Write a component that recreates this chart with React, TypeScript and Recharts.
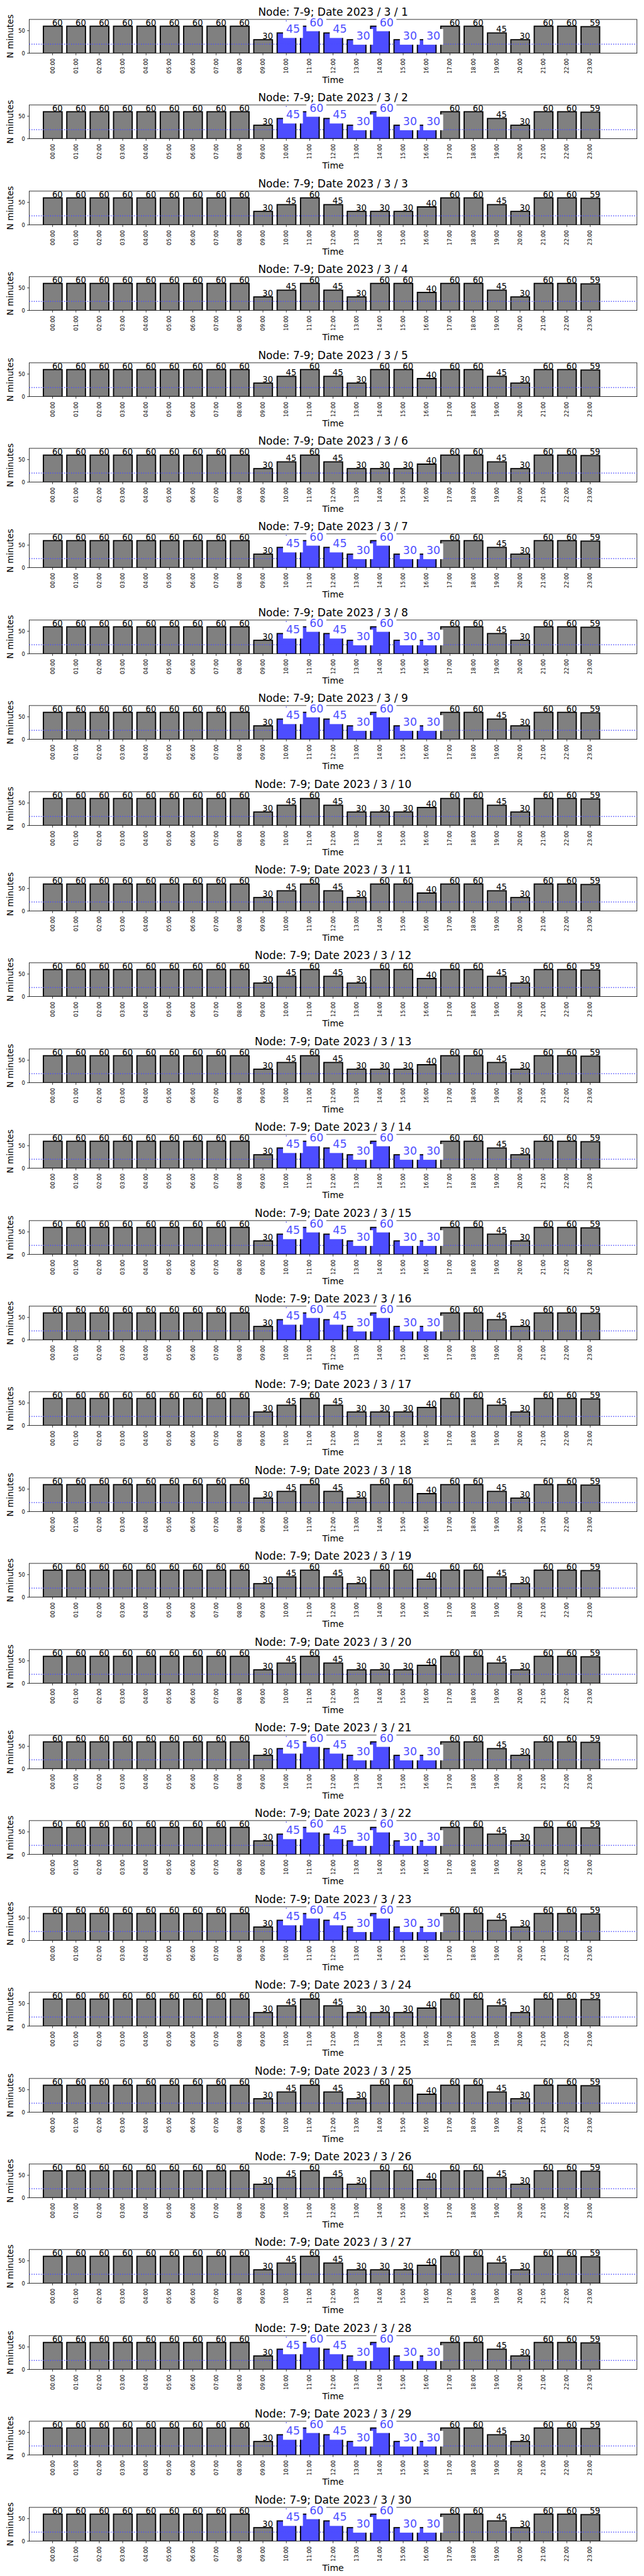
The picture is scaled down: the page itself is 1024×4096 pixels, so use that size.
import React from "react";
import { BarChart, Bar, XAxis, YAxis, Cell, LabelList, ReferenceLine } from "recharts";

// hour categories
const HOURS = [
  "00:00", "01:00", "02:00", "03:00", "04:00", "05:00", "06:00", "07:00",
  "08:00", "09:00", "10:00", "11:00", "12:00", "13:00", "14:00", "15:00",
  "16:00", "17:00", "18:00", "19:00", "20:00", "21:00", "22:00", "23:00",
];

// minutes per hour, three kinds of day seen in the panels
const MIN_TUE_THU = [60, 60, 60, 60, 60, 60, 60, 60, 60, 30, 45, 60, 45, 30, 60, 30, 30, 60, 60, 45, 30, 60, 60, 59];
const MIN_MON_FRI = [60, 60, 60, 60, 60, 60, 60, 60, 60, 30, 45, 60, 45, 30, 30, 30, 40, 60, 60, 45, 30, 60, 60, 59];
const MIN_WEEKEND = [60, 60, 60, 60, 60, 60, 60, 60, 60, 30, 45, 60, 45, 30, 60, 60, 40, 60, 60, 45, 30, 60, 60, 59];

const DAYS = [1, 2, 3, 4, 5, 6, 7, 8, 9, 10, 11, 12, 13, 14, 15, 16, 17, 18, 19, 20, 21, 22, 23, 24, 25, 26, 27, 28, 29, 30];
const DAY_KIND = [
  "tt", "tt", "mf", "we", "we", "mf", "tt", "tt", "tt", "mf",
  "we", "we", "mf", "tt", "tt", "tt", "mf", "we", "we", "mf",
  "tt", "tt", "tt", "mf", "we", "we", "mf", "tt", "tt", "tt",
];
const BLUE_HOURS = ["10:00", "11:00", "12:00", "13:00", "14:00", "15:00", "16:00"];

const LIMIT = 20;
const Y_TOP = 75;
const Y_TICKS = [0, 50];

const FONT = "'DejaVu Sans', sans-serif";
const BLUE = "#4d4dff";
const GRAY = "#808080";

// panel geometry (1024 wide page, 30 panels)
const W = 1024;
const H = 136.4;
const PL = 46.4;
const PR = 1012.8;
const PT = 30.9;
const PB = 84.6;
const YAW = 30;
const XAH = 40;
const BAR_W = 29.7;
const PAD = { left: 18.6, right: 55.8 };

function XTick(props: any) {
  const { x, y, payload } = props;
  const ty = y + 1.6;
  return (
    <text x={x} y={ty} transform={`rotate(-90 ${x} ${ty})`} textAnchor="end" dominantBaseline="central"
      fontSize={8.4} fontFamily={FONT} fill="#000">
      {payload.value}
    </text>
  );
}

function YTick(props: any) {
  const { x, y, payload } = props;
  return (
    <text x={x} y={y} textAnchor="end" dominantBaseline="central" fontSize={8.4} fontFamily={FONT} fill="#000">
      {payload.value}
    </text>
  );
}

function ValueLabel(props: any) {
  const vb = props.viewBox || props;
  const { x, y, width } = vb;
  const raw = String(props.value);
  const hl = raw[0] === "h";
  const v = hl ? raw.slice(1) : raw;
  const cx = x + width / 2;
  if (hl) {
    const fs = 17.4;
    const tw = v.length * 0.636 * fs;
    return (
      <g>
        <rect x={cx - 5.5} y={y - 0.76 * fs - 3.8} width={tw + 9.5} height={fs + 7.6} fill="#fff" />
        <text x={cx - 0.5} y={y} fontSize={fs} fill={BLUE} fontFamily={FONT}>{v}</text>
      </g>
    );
  }
  return (
    <text x={cx - 1} y={y - 1} fontSize={13.2} fill="#000" fontFamily={FONT}>{v}</text>
  );
}

function Panel({ day, kind }: { day: number; kind: string }) {
  const mins = kind === "tt" ? MIN_TUE_THU : kind === "mf" ? MIN_MON_FRI : MIN_WEEKEND;
  const rows = HOURS.map((hour, i) => ({
    hour,
    v: mins[i],
    hl: kind === "tt" && BLUE_HOURS.includes(hour),
  }));
  const startRow = rows.find((r) => r.hour === BLUE_HOURS[0])!;
  const cxMid = (PL + PR) / 2;

  return (
    <div style={{ position: "absolute", left: 0, top: (day - 1) * H, width: W, height: H }}>
      <svg width={W} height={H} style={{ position: "absolute", left: 0, top: 0 }}>
        <rect x={PL} y={PT} width={PR - PL} height={PB - PT} fill="none" stroke="#000" strokeWidth={0.8} />
      </svg>
      <BarChart
        width={W}
        height={H}
        data={rows}
        margin={{ top: PT, right: W - PR, bottom: H - PB - XAH, left: PL - YAW }}
      >
        <XAxis dataKey="hour" type="category" interval={0} padding={PAD} height={XAH}
          axisLine={false} tickSize={3.3} tickMargin={3.3}
          tickLine={{ stroke: "#000", strokeWidth: 0.8 }} tick={<XTick />} />
        <XAxis xAxisId="lab" dataKey="hour" type="category" padding={PAD} hide />
        <YAxis type="number" domain={[0, Y_TOP]} ticks={Y_TICKS} width={YAW} allowDataOverflow
          axisLine={false} tickSize={3.3} tickMargin={3.3}
          tickLine={{ stroke: "#000", strokeWidth: 0.8 }} tick={<YTick />} />
        <Bar dataKey="v" barSize={BAR_W} stroke="#000" strokeWidth={1.85} isAnimationActive={false}>
          {rows.map((r, i) => (
            <Cell key={i} fill={r.hl ? BLUE : GRAY} />
          ))}
        </Bar>
        {kind === "tt" && (
          <ReferenceLine
            segment={[{ x: BLUE_HOURS[0], y: startRow.v }, { x: BLUE_HOURS[0], y: Y_TOP }]}
            stroke={BLUE} strokeWidth={1.4} strokeDasharray="1.4 2.3" />
        )}
        <ReferenceLine y={LIMIT} stroke={BLUE} strokeWidth={1.4} strokeDasharray="1.4 2.3" />
        <Bar xAxisId="lab" dataKey="v" barSize={BAR_W} fill="none" stroke="none" isAnimationActive={false}>
          <LabelList dataKey={(d: any) => (d.hl ? "h" : "") + d.v} content={ValueLabel} />
        </Bar>
      </BarChart>
      <svg width={W} height={H} style={{ position: "absolute", left: 0, top: 0, pointerEvents: "none" }}>
        <text x={cxMid} y={24.6} textAnchor="middle" fontSize={17} fontFamily={FONT} fill="#000">
          {`Node: 7-9; Date 2023 / 3 / ${day}`}
        </text>
        <text x={15.7} y={(PT + PB) / 2} transform={`rotate(-90 15.7 ${(PT + PB) / 2})`} textAnchor="middle"
          dominantBaseline="central" fontSize={13.6} fontFamily={FONT} fill="#000">
          N minutes
        </text>
        <text x={cxMid} y={131.6} textAnchor="middle" fontSize={14} fontFamily={FONT} fill="#000">
          Time
        </text>
      </svg>
    </div>
  );
}

export default function App() {
  return (
    <div style={{ position: "absolute", left: 0, top: 0, width: W, height: 4096, background: "#fff" }}>
      {DAYS.map((d, i) => (
        <Panel key={d} day={d} kind={DAY_KIND[i]} />
      ))}
    </div>
  );
}
